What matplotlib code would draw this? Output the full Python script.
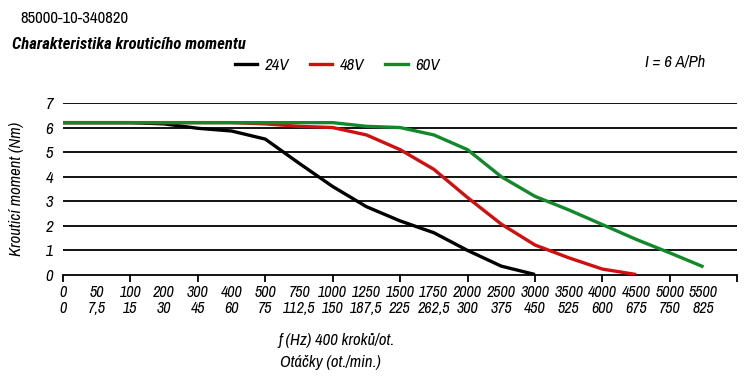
import matplotlib
matplotlib.use("Agg")
import matplotlib.pyplot as plt
from matplotlib.lines import Line2D

# Data (x is the index of the tick label)
freq_labels = ["0", "50", "100", "200", "300", "400", "500", "750", "1000", "1250",
               "1500", "1750", "2000", "2500", "3000", "3500", "4000", "4500", "5000", "5500"]
rpm_labels = ["0", "7,5", "15", "30", "45", "60", "75", "112,5", "150", "187,5",
              "225", "262,5", "300", "375", "450", "525", "600", "675", "750", "825"]

torque_24v = [6.2, 6.2, 6.2, 6.15, 5.97, 5.86, 5.53, 4.55, 3.6, 2.78,
              2.2, 1.72, 1.0, 0.36, 0.02]
torque_48v = [6.2, 6.2, 6.2, 6.2, 6.2, 6.2, 6.15, 6.05, 6.0, 5.7,
              5.1, 4.3, 3.15, 2.07, 1.22, 0.7, 0.24, 0.02]
torque_60v = [6.2, 6.2, 6.2, 6.2, 6.2, 6.2, 6.2, 6.2, 6.2, 6.05,
              6.0, 5.7, 5.1, 4.0, 3.2, 2.65, 2.05, 1.45, 0.9, 0.33]

series = [("24V", torque_24v, "#000000"),
          ("48V", torque_48v, "#d01010"),
          ("60V", torque_60v, "#11892a")]

FONT = ["Archivo Narrow", "DejaVu Sans"]
BOLD_FONT = ["Roboto Condensed", "Archivo Narrow", "DejaVu Sans"]
plt.rcParams["font.family"] = FONT

fig = plt.figure(figsize=(7.5, 3.86), dpi=100)
ax = fig.add_axes([0.084, 0.2876, 0.899, 0.4456])

# horizontal grid lines
for y in range(1, 8):
    ax.axhline(y, color="black", lw=1.3, zorder=1)

for name, vals, col in series:
    ax.plot(range(len(vals)), vals, color=col, lw=2.4, zorder=3,
            solid_capstyle="butt")

ax.set_xlim(0, 20)
ax.set_ylim(0, 7)
for s in ["top", "right", "left"]:
    ax.spines[s].set_visible(False)
ax.spines["bottom"].set_linewidth(1.3)

ax.set_yticks(range(8))
ax.set_yticklabels([str(v) for v in range(8)], fontsize=12, style="italic")
ax.tick_params(axis="y", length=0, pad=7)

ax.xaxis.remove_overlapping_locs = False
ax.set_xticks(range(len(freq_labels)))
ax.set_xticklabels([f + "\n" + r for f, r in zip(freq_labels, rpm_labels)],
                   fontsize=11.5, style="italic", linespacing=1.1)
ax.set_xticks(range(0, 21, 2), minor=True)
ax.tick_params(axis="x", which="major", length=0, pad=7)
ax.tick_params(axis="x", which="minor", length=5, width=1.3, direction="out")

ax.set_ylabel("Krouticí moment (Nm)", fontsize=12, style="italic")
ax.yaxis.set_label_coords(-0.058, 0.5)

fig.text(0.448, 0.117, "f (Hz) 400 kroků/ot.", fontsize=12, style="italic",
         ha="center", va="center")
fig.text(0.44, 0.062, "Otáčky (ot./min.)", fontsize=12, style="italic",
         ha="center", va="center")

fig.text(0.027, 0.953, "85000-10-340820", fontsize=12, ha="left", va="center")
fig.text(0.016, 0.886, "Charakteristika krouticího momentu", fontsize=12,
         family=BOLD_FONT, style="italic", weight="bold", ha="left", va="center")
fig.text(0.94, 0.838, "I = 6 A/Ph", fontsize=12, style="italic",
         ha="right", va="center")

handles = [Line2D([], [], color=c, lw=2.4) for _, _, c in series]
fig.legend(handles, [n for n, _, _ in series], loc="center left",
           bbox_to_anchor=(0.313, 0.83), ncol=3, frameon=False,
           prop={"family": FONT, "style": "italic", "size": 12},
           handlelength=1.35, handletextpad=0.45, columnspacing=1.25,
           borderaxespad=0, borderpad=0)

fig.savefig("out.png", dpi=100)
